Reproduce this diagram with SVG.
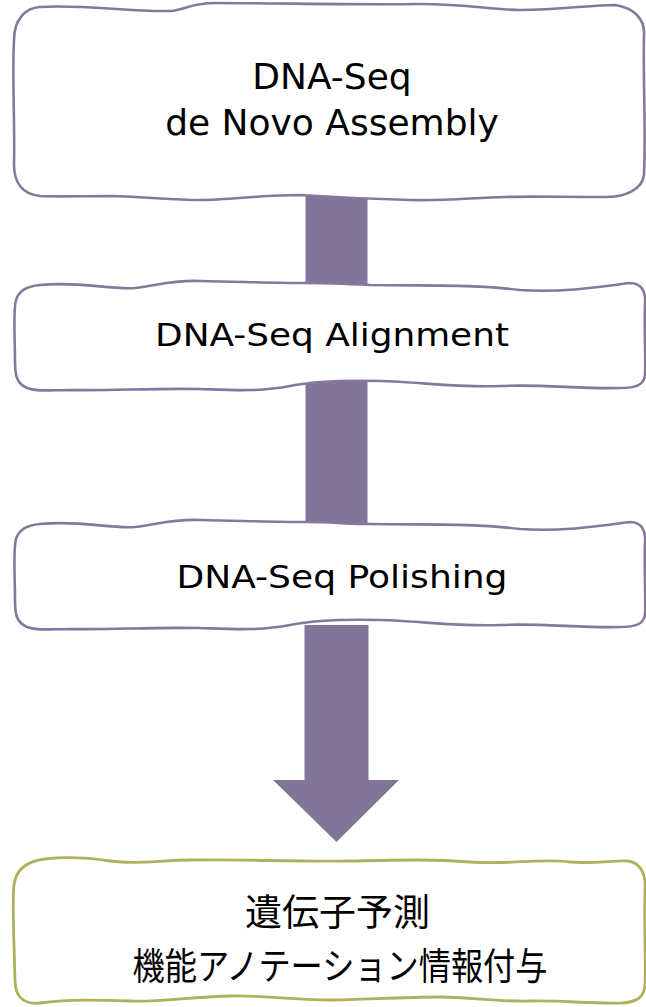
<svg xmlns="http://www.w3.org/2000/svg" width="646" height="1007" viewBox="0 0 646 1007">
<defs>
<style>
.box{fill:#ffffff;stroke:#84799c;stroke-width:2.6;stroke-linejoin:round}
.gbox{fill:#ffffff;stroke:#afb15c;stroke-width:2.8;stroke-linejoin:round}
.conn{fill:#817699;stroke:none}
.lbl{font-family:"DejaVu Sans","Liberation Sans",sans-serif;fill:#000000;text-anchor:middle}
.jp{font-family:"Noto Sans CJK JP","Noto Sans",sans-serif;fill:#000000;text-anchor:middle;font-size:37px}
</style>
</defs>
<rect width="646" height="1007" fill="#ffffff"/>
<g id="connectors">
<rect class="conn" x="305.5" y="190" width="62" height="105"/>
<rect class="conn" x="305.5" y="380" width="62" height="150"/>
<path class="conn" d="M304.5,625 L368.5,625 L368.5,780 L399,780 L336.5,842 L273,780 L304.5,780 Z"/>
</g>
<g id="node1">
<path class="box" d="M40,7 C80,4 130,12 170,11 C185,10 190,3 215,3 C280,3 350,5 420,4 C470,4 490,10 520,10 C560,10 590,5 615,5 C635,8 645,20 644,35 C643,80 646,130 644,175 C642,190 625,197 605,197 C560,197 530,196 505,197 C470,198 445,201 410,200 C370,199 330,197 300,195 C260,195 230,200 200,200 C170,200 150,197 110,196 C80,196 60,197 40,196 C22,194 14,182 14,165 C15,120 12,80 14,40 C14,20 25,8 40,7 Z"/>
<text class="lbl" x="332" y="89" font-size="36">DNA-Seq</text>
<text class="lbl" x="332" y="135" font-size="36">de Novo Assembly</text>
</g>
<g id="node2">
<path class="box" d="M40,285 C80,281 110,290 135,288 C160,285 170,280 200,281 C250,282 280,283 305,283 C330,283 350,284 370,285 C430,286 470,284 520,290 C560,293 600,287 630,283 C642,283 646,292 645,305 C644,330 646,360 645,375 C644,386 634,388 620,388 C580,389 540,384 500,386 C460,388 420,382 380,381 C340,380 310,382 290,386 C260,392 230,390 200,389 C150,388 110,391 70,390 C50,390 38,392 27,388 C16,383 15,375 15,360 C15,340 13,310 16,300 C19,290 28,286 40,285 Z"/>
<text class="lbl" x="332" y="346" font-size="32" textLength="354" lengthAdjust="spacingAndGlyphs">DNA-Seq Alignment</text>
</g>
<g id="node3">
<path class="box" d="M40,524 C80,520 110,529 135,527 C160,524 170,519 200,520 C250,521 280,522 305,522 C330,522 350,524 370,524 C430,525 470,523 520,529 C560,532 600,526 630,522 C642,522 646,531 645,544 C644,569 646,599 645,614 C644,625 634,627 620,627 C580,628 540,623 500,625 C460,627 420,621 380,620 C340,619 310,621 290,625 C260,631 230,629 200,628 C150,627 110,630 70,629 C50,629 38,631 27,627 C16,622 15,614 15,599 C15,579 13,549 16,539 C19,529 28,525 40,524 Z"/>
<text class="lbl" x="342" y="588" font-size="32" textLength="331" lengthAdjust="spacingAndGlyphs">DNA-Seq Polishing</text>
</g>
<g id="node4">
<path class="gbox" d="M45,859 C70,856 90,858 110,861 C140,865 160,860 190,860 C240,859 300,862 350,861 C400,860 430,859 470,862 C510,865 540,858 570,862 C595,864 615,860 628,861 C642,863 646,876 645,890 C644,930 646,960 645,985 C644,998 636,1002 622,1003 C590,1004 560,1000 530,1001 C500,1002 470,997 440,997 C400,997 360,1000 330,1000 C290,1000 260,995 230,996 C190,997 160,1002 130,1001 C100,1000 70,999 40,1003 C22,1005 15,995 15,980 C14,940 12,900 14,885 C16,868 28,861 45,859 Z"/>
<text class="jp" x="337.5" y="926">遺伝子予測</text>
<text class="jp" x="340" y="980" textLength="415" lengthAdjust="spacingAndGlyphs">機能アノテーション情報付与</text>
</g>
</svg>
